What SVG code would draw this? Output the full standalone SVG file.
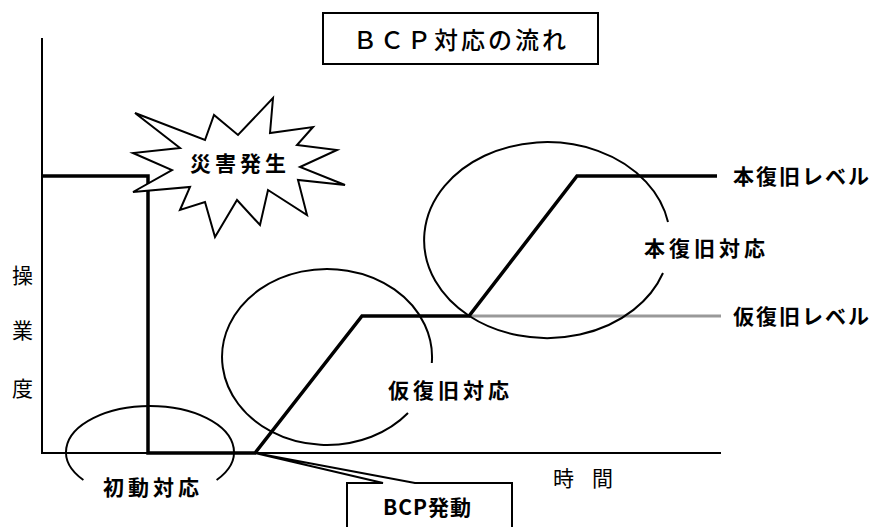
<svg xmlns="http://www.w3.org/2000/svg" width="880" height="527" viewBox="0 0 880 527">
<style>
.t{font-family:"Noto Sans CJK JP","Noto Sans",sans-serif;fill:#000;font-size:21px;}
.b{font-weight:bold;letter-spacing:4px;}
.thin{fill:none;stroke:#000;stroke-width:2;}
.thick{fill:none;stroke:#000;stroke-width:3.5;stroke-linejoin:miter;}
</style>
<rect width="880" height="527" fill="#fff"/>
<g id="axes">
<line class="thin" x1="42" y1="38" x2="42" y2="453"/>
<line class="thin" x1="41" y1="453" x2="721" y2="453"/>
</g>
<g id="connectors">
<line x1="469" y1="316" x2="721" y2="316" stroke="#999" stroke-width="3"/>
<polyline class="thick" points="42,176 148,176 148,453 255,453 362,316 469,316 577,176 717,176"/>
</g>
<g id="title">
<rect class="thin" x="323" y="13" width="275" height="51" fill="#fff"/>
<text class="t" x="461" y="49" text-anchor="middle" style="font-size:24px;font-weight:500;letter-spacing:3px">ＢＣＰ対応の流れ</text>
</g>
<g id="disaster">
<polygon points="135,113 205,140 214,115 238,135 273,98 270,133 313,127 297,145 337,150 300,167 345,185 298,180 307,215 268,190 260,225 237,200 215,237 205,202 180,210 190,187 133,192 172,170 133,153 180,148" fill="#fff" stroke="#000" stroke-width="2" stroke-linejoin="miter"/>
<text class="t b" x="190" y="171">災害発生</text>
</g>
<g id="initial">
<path class="thin" d="M83.4 480 A84 46 0 1 1 216.6 480"/>
<text class="t b" x="103" y="495">初動対応</text>
</g>
<g id="temp">
<path class="thin" d="M431.8 363 A105 88 0 1 0 408 413"/>
<text class="t b" x="388" y="398">仮復旧対応</text>
</g>
<g id="full">
<path class="thin" d="M668 222 A123 98 0 1 0 663 273"/>
<text class="t b" x="644" y="256">本復旧対応</text>
</g>
<g id="levels">
<text class="t b" x="733" y="184" style="letter-spacing:2px">本復旧レベル</text>
<text class="t b" x="733" y="324" style="letter-spacing:2px">仮復旧レベル</text>
</g>
<g id="bcp">
<path class="thin" d="M347 530 L347 483 L383 483 L255 453 L415 483 L512 483 L512 530" fill="#fff"/>
<text class="t b" x="383" y="515" style="letter-spacing:1px">BCP発動</text>
</g>
<g id="ylabel">
<text class="t" x="12" y="283">操</text>
<text class="t" x="12" y="338">業</text>
<text class="t" x="12" y="396">度</text>
</g>
<g id="xlabel">
<text class="t" x="553" y="486">時</text>
<text class="t" x="592" y="486">間</text>
</g>
</svg>
